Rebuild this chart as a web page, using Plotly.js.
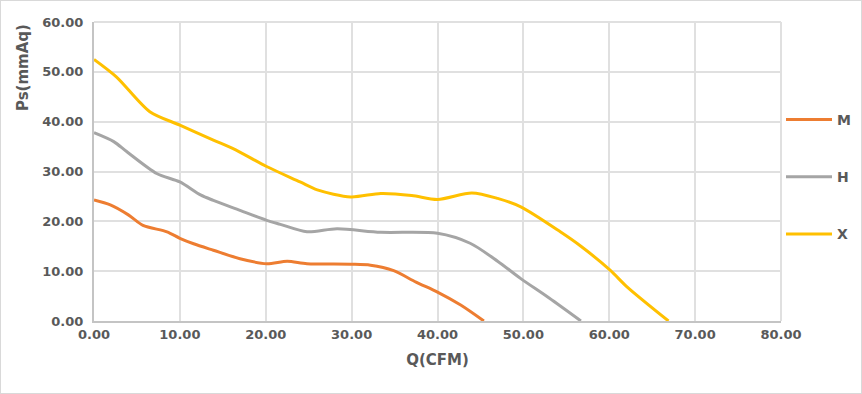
<!DOCTYPE html>
<html><head><meta charset="utf-8">
<script src="https://cdn.plot.ly/plotly-3.0.1.min.js"></script>
<style>html,body{margin:0;padding:0;background:#fff}#chart{width:860px;height:392px;border:1px solid #d9d9d9}</style>
</head><body><div id="chart"></div>
<script>
const seriesNames = ["M", "H", "X"];
const seriesColors = ["#ED7D31", "#A5A5A5", "#FFC000"];
const qM = [0, 1.9, 4, 5.7, 8.5, 10, 11.6, 13.9, 17, 20.1, 22.5, 24.8, 29.9, 32.2, 34.9, 37.5, 40, 42.7, 45.4];
const pM = [24.3, 23.3, 21.3, 19.2, 17.9, 16.6, 15.5, 14.2, 12.5, 11.5, 12.0, 11.5, 11.4, 11.2, 10.1, 7.8, 5.8, 3.2, 0];
const qH = [0, 2.3, 3.8, 7.3, 10, 12.4, 13.9, 17, 20.1, 21.7, 24.8, 28.3, 33.4, 40, 43.8, 47, 49.7, 53, 56.7];
const pH = [37.8, 36.0, 34.0, 29.6, 27.9, 25.3, 24.2, 22.2, 20.2, 19.4, 17.9, 18.5, 17.8, 17.6, 15.6, 12.0, 8.5, 4.6, 0];
const qX = [0, 2.6, 6.5, 10, 13.9, 16.2, 20.1, 24, 26, 29.9, 33.4, 37, 40, 44, 47, 49.7, 54.3, 56.7, 60.1, 62.1, 66.9];
const pX = [52.5, 49.0, 42.0, 39.3, 36.3, 34.6, 31.0, 27.9, 26.3, 24.9, 25.6, 25.2, 24.4, 25.7, 24.6, 22.9, 17.9, 15.0, 10.2, 6.8, 0];
const xTicks = [0, 10, 20, 30, 40, 50, 60, 70, 80];
const yTicks = [0, 10, 20, 30, 40, 50, 60];

const qs = [qM, qH, qX], ps = [pM, pH, pX];
const traces = seriesNames.map((n, i) => ({
  x: qs[i], y: ps[i], name: n, type: 'scatter', mode: 'lines',
  line: {color: seriesColors[i], width: 3, shape: 'spline', smoothing: 0.8},
  legendgroup: n, cliponaxis: true
}));
const tickFont = {family: 'DejaVu Sans', size: 13, color: '#595959', weight: 'bold'};
const gridC = '#e0e0e0';
const layout = {
  width: 860, height: 392,
  margin: {l: 93, r: 80, t: 21, b: 72, autoexpand: false},
  paper_bgcolor: '#fff', plot_bgcolor: '#fff',
  showlegend: true,
  legend: {x: 1.0, xanchor: 'left', y: 0.726, yanchor: 'top', tracegroupgap: 36,
    font: {family: 'DejaVu Sans', size: 14, color: '#595959', weight: 'bold'}, itemwidth: 46, bgcolor: 'rgba(0,0,0,0)'},
  xaxis: {range: [0, 80], tickvals: xTicks, ticktext: xTicks.map(v => v.toFixed(2)),
    showgrid: true, gridcolor: gridC, gridwidth: 2, zeroline: false,
    showline: true, linecolor: '#c4c4c4', linewidth: 2, ticks: '', ticklen: 0,
    tickfont: tickFont, fixedrange: true,
    title: {text: 'Q(CFM)', font: {family: 'DejaVu Sans', size: 15, color: '#595959', weight: 'bold'}, standoff: 14}},
  yaxis: {range: [0, 60], tickvals: yTicks, ticktext: yTicks.map(v => v.toFixed(2)),
    showgrid: true, gridcolor: gridC, gridwidth: 2, zeroline: false,
    showline: true, linecolor: '#c4c4c4', linewidth: 2, ticks: '', ticklabelstandoff: 6,
    tickfont: tickFont, fixedrange: true},
  annotations: [{text: 'Ps(mmAq)', xref: 'paper', yref: 'paper', x: -0.104, y: 1.0, xanchor: 'center', yanchor: 'top',
    textangle: -90, showarrow: false, font: {family: 'DejaVu Sans', size: 15, color: '#595959', weight: 'bold'}}],
  shapes: [
    {type: 'line', xref: 'paper', yref: 'paper', x0: 0, x1: 1, y0: 1, y1: 1, line: {color: gridC, width: 2}},
    {type: 'line', xref: 'paper', yref: 'paper', x0: 1, x1: 1, y0: 0, y1: 1, line: {color: gridC, width: 2}}
  ]
};
Plotly.newPlot('chart', traces, layout, {displayModeBar: false, staticPlot: true});
</script></body></html>
